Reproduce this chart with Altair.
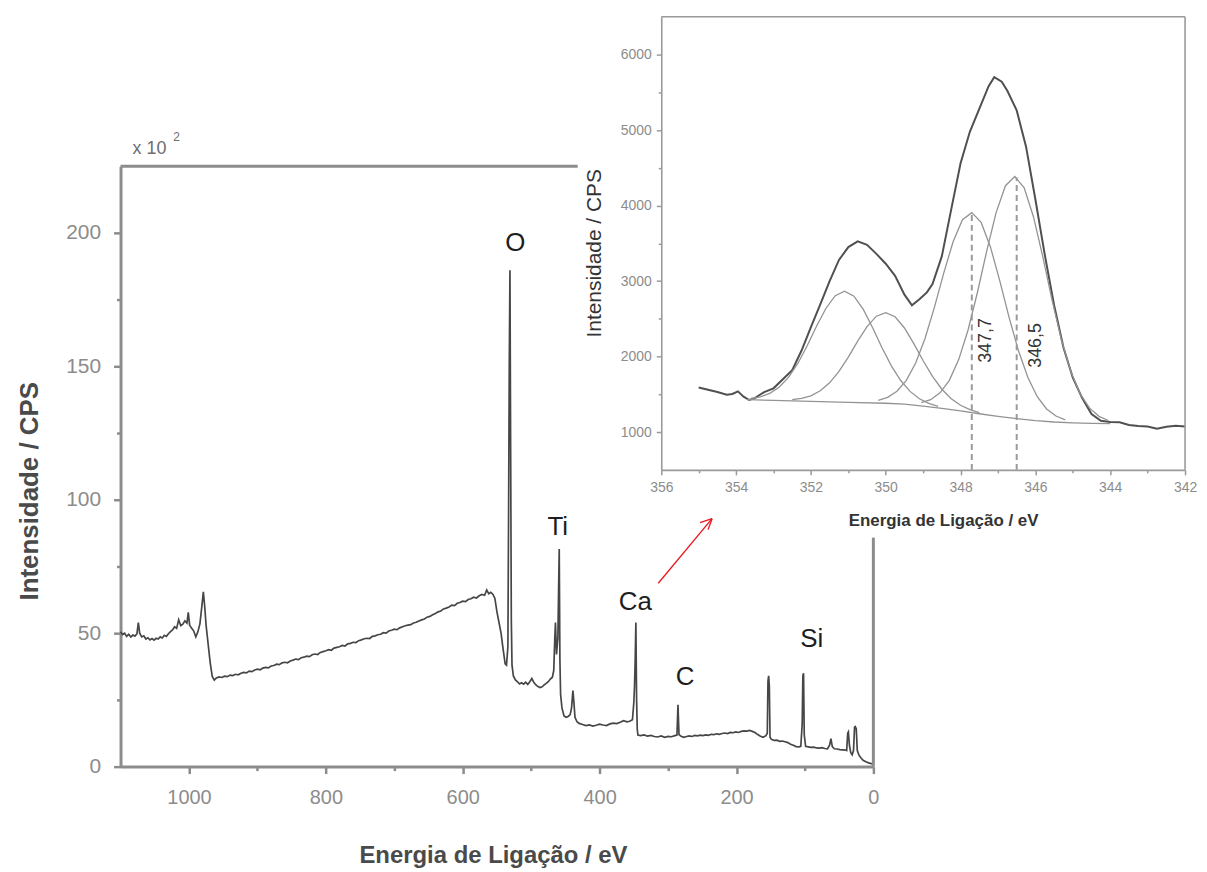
import altair as alt
import pandas as pd

# ---------------- survey spectrum (x10^2 CPS) ----------------
SURVEY_E = [1100, 1097, 1094, 1091, 1088, 1085, 1082, 1079, 1076, 1074, 1072, 1069, 1066, 1063, 1060, 1057, 1054, 1051, 1048, 1045,
            1042, 1039, 1036, 1033, 1030, 1027, 1024, 1021, 1018, 1015, 1012, 1009, 1006, 1003, 1001, 999, 996, 993, 990, 987,
            984, 981, 979, 977, 975, 972, 969, 966, 963, 960, 956, 952, 948, 944, 940, 936, 932, 928, 924, 920,
            916, 912, 908, 904, 900, 896, 892, 888, 884, 880, 876, 872, 868, 864, 860, 856, 852, 848, 844, 840,
            836, 832, 828, 824, 820, 816, 812, 808, 804, 800, 796, 792, 788, 784, 780, 776, 772, 768, 764, 760,
            756, 752, 748, 744, 740, 736, 732, 728, 724, 720, 716, 712, 708, 704, 700, 696, 692, 688, 684, 680,
            676, 672, 668, 664, 660, 656, 652, 648, 644, 640, 636, 632, 628, 624, 620, 616, 612, 608, 604, 600,
            596, 592, 588, 584, 580, 576, 572, 568, 565, 562, 559, 556, 553, 550, 547, 544, 541, 538, 536, 534,
            533, 532, 531, 530, 529, 528, 526, 523, 520, 517, 514, 511, 508, 505, 502, 499, 496, 493, 490, 487,
            484, 481, 478, 475, 472, 469, 467, 465.5, 464.5, 463, 461, 460, 459, 458, 457, 455, 452, 449, 446, 443,
            441, 439, 437.5, 436, 433, 430, 425, 420, 415, 410, 405, 400, 395, 390, 385, 380, 375, 370, 365, 360,
            356, 352, 350, 349, 348, 347, 346, 345, 344, 340, 335, 330, 325, 320, 315, 310, 305, 300, 295, 290,
            287, 285.5, 284, 281, 277, 273, 269, 265, 261, 257, 253, 249, 245, 241, 237, 233, 229, 225, 221, 217,
            213, 209, 205, 201, 197, 193, 189, 185, 181, 177, 173, 169, 165, 161, 157, 155, 154, 153, 152, 151,
            149, 145, 141, 137, 133, 129, 125, 121, 117, 113, 109, 106, 104, 103, 102, 101, 99, 95, 91, 87,
            83, 79, 75, 71, 67, 64, 62, 60, 57, 53, 49, 45, 41, 39, 37.5, 36.5, 35, 33, 31, 29,
            27.5, 26.5, 25, 23.5, 21, 18, 15, 11, 7, 3, 0]
SURVEY_I = [50.5, 49.5, 50.0, 48.8, 49.6, 48.6, 49.3, 48.9, 49.8, 54.0, 50.0, 48.6, 49.0, 47.8, 48.3, 47.5, 48.0, 47.4, 48.1, 47.8,
            48.6, 48.2, 49.2, 48.8, 49.8, 50.6, 51.2, 52.4, 51.8, 55.0, 52.8, 53.4, 54.6, 53.8, 57.8, 53.0, 51.8, 50.8, 48.6, 50.5,
            53.5, 60.5, 65.5, 60.0, 53.0, 46.0, 39.0, 33.8, 32.4, 33.2, 33.6, 33.4, 33.9, 33.7, 34.3, 34.1, 34.6, 34.4, 35.0, 35.3,
            35.1, 35.8, 35.6, 36.2, 36.5, 36.3, 36.9, 37.2, 37.0, 37.7, 37.9, 38.4, 38.2, 38.9, 39.1, 38.9, 39.6, 39.9, 40.3, 40.1,
            40.8, 41.0, 41.4, 41.2, 41.9, 42.2, 42.0, 42.8, 43.1, 43.4, 43.8, 43.6, 44.4, 44.7, 44.9, 45.4, 45.2, 46.0, 46.2, 46.6,
            46.5, 47.2, 47.5, 47.9, 48.1, 48.0, 48.8, 49.0, 49.4, 49.6, 50.2, 50.0, 50.8, 51.1, 51.5, 51.3, 52.0, 52.4, 52.8, 53.0,
            53.2, 53.8, 54.1, 54.6, 55.0, 55.3, 56.0, 56.3, 56.9, 57.4, 58.0, 58.3, 59.1, 59.4, 59.8, 60.5, 60.3, 61.2, 61.5, 62.0,
            61.8, 62.6, 62.9, 63.5, 63.2, 64.0, 64.5, 64.2, 66.2, 64.8, 65.3, 64.6, 63.0, 58.0, 54.0, 50.0, 44.0, 38.5, 38.0, 45.0,
            95.0, 150.0, 186.0, 120.0, 55.0, 38.0, 34.0, 32.5, 31.8, 31.0, 31.4, 30.9, 31.6, 30.8, 31.8, 33.0, 31.5, 30.6, 30.0, 29.6,
            29.9, 30.6, 31.2, 31.8, 32.8, 33.5, 36.0, 48.0, 54.0, 42.0, 48.0, 65.0, 81.5, 40.0, 27.0, 22.0, 19.0, 18.5, 18.8, 19.5,
            22.0, 28.5, 24.0, 18.5, 16.8, 16.2, 15.8, 15.4, 15.6, 15.2, 15.5, 15.9, 15.6, 15.4, 16.0, 16.3, 16.1, 16.6, 17.2, 16.8,
            17.0, 17.6, 24.0, 30.0, 40.0, 54.0, 26.0, 14.0, 11.8, 11.6, 11.9, 11.4, 11.7, 11.3, 11.1, 11.5, 11.0, 11.3, 11.2, 11.6,
            11.8, 23.2, 12.0, 11.4, 11.0, 11.3, 11.5, 11.3, 11.7, 11.5, 11.8, 11.6, 11.9, 11.7, 12.1, 12.0, 12.3, 12.1, 12.4, 12.6,
            12.4, 12.8, 12.7, 13.0, 12.8, 13.2, 13.4, 13.3, 13.6, 13.2, 12.8, 12.0, 11.4, 11.0, 11.6, 12.5, 32.0, 34.0, 30.0, 11.0,
            10.2, 9.8, 9.9, 9.5, 9.6, 9.3, 9.0, 8.4, 8.0, 7.5, 7.4, 7.6, 16.0, 34.0, 35.0, 12.0, 7.6, 7.4, 7.2, 7.3,
            7.0, 6.9, 7.1, 6.8, 6.7, 8.0, 10.5, 7.5, 6.7, 6.6, 6.4, 6.3, 6.2, 6.0, 12.5, 13.0, 8.0, 5.2, 4.4, 6.0,
            14.8, 15.0, 14.2, 6.0, 4.3, 3.2, 2.4, 1.8, 1.4, 1.1, 1.0]

MAIN_X_TICKS = [1000, 900, 800, 700, 600, 500, 400, 300, 200, 100, 0]
MAIN_Y_TICKS = [0, 25, 50, 75, 100, 125, 150, 175, 200]

PEAK_LABEL_TEXT = ["O", "Ti", "Ca", "C", "Si"]
PEAK_LABEL_E = [523.0, 461.2, 347.7, 275.0, 90.2]
PEAK_LABEL_I = [196.3, 89.9, 61.6, 33.6, 47.8]

# main frame (top and right borders, partly hidden by the inset)
FRAME_E = [1100, 0]
FRAME_E2 = [432, 0]
FRAME_I = [225, 0]
FRAME_I2 = [225, 85.8]

# red arrow (shaft + two head strokes), in survey coordinates
ARROW_FROM_E = [314.3, 253.2, 241.5]
ARROW_FROM_I = [68.7, 91.4, 88.8]
ARROW_TO_E = [235.7, 235.7, 235.7]
ARROW_TO_I = [92.9, 92.9, 92.9]

# ---------------- Ca 2p inset ----------------
ENV_E = [355.0, 354.75, 354.5, 354.25, 354.1, 353.95, 353.8, 353.65, 353.5, 353.25, 353.0, 352.75, 352.5, 352.25, 352.0,
         351.75, 351.5, 351.25, 351.0, 350.75, 350.5, 350.25, 350.0, 349.75, 349.5, 349.3, 349.1, 348.9, 348.75, 348.5,
         348.25, 348.0, 347.75, 347.5, 347.25, 347.1, 346.9, 346.75, 346.5, 346.25, 346.0, 345.75, 345.5, 345.25, 345.0,
         344.75, 344.5, 344.25, 344.0, 343.75, 343.5, 343.25, 343.0, 342.75, 342.5, 342.25, 342.0]
ENV_I = [1590, 1560, 1530, 1495, 1505, 1540, 1470, 1425, 1450, 1530, 1580, 1700, 1820, 2080, 2390,
         2690, 3000, 3280, 3450, 3525, 3480, 3360, 3230, 3070, 2820, 2680, 2760, 2850, 2960, 3330,
         3950, 4560, 4980, 5280, 5580, 5700, 5640, 5520, 5260, 4780, 4080, 3350, 2680, 2120, 1720,
         1450, 1240, 1150, 1135, 1130, 1095, 1080, 1075, 1045, 1070, 1085, 1075]

BG_E = [353.7, 353.0, 352.0, 351.0, 350.0, 349.5, 349.0, 348.5, 348.0, 347.5, 347.0, 346.5, 346.0, 345.5, 345.0, 344.5, 344.0]
BG_I = [1430, 1420, 1406, 1394, 1382, 1370, 1345, 1315, 1280, 1243, 1208, 1178, 1153, 1134, 1122, 1115, 1112]

C1_E = [353.6, 353.35, 353.1, 352.85, 352.6, 352.35, 352.1, 351.85, 351.6, 351.35, 351.1, 350.85, 350.6, 350.35, 350.1,
        349.85, 349.6, 349.35, 349.1, 348.85, 348.6]
C1_I = [1445, 1467, 1513, 1594, 1725, 1909, 2143, 2401, 2637, 2806, 2866, 2800, 2625, 2383, 2118,
        1878, 1683, 1539, 1442, 1380, 1340]
C2_E = [352.5, 352.25, 352.0, 351.75, 351.5, 351.25, 351.0, 350.75, 350.5, 350.25, 350.0, 349.75, 349.5, 349.25, 349.0,
        348.75, 348.5, 348.25, 348.0, 347.75, 347.5]
C2_I = [1429, 1446, 1481, 1547, 1653, 1804, 1994, 2205, 2397, 2535, 2582, 2528, 2379, 2172, 1945,
        1737, 1568, 1442, 1355, 1298, 1259]
C3_E = [350.2, 349.95, 349.7, 349.45, 349.2, 348.95, 348.7, 348.45, 348.2, 347.95, 347.7, 347.45, 347.2, 346.95, 346.7,
        346.45, 346.2, 345.95, 345.7, 345.45, 345.2]
C3_I = [1419, 1461, 1542, 1686, 1915, 2240, 2651, 3106, 3521, 3813, 3906, 3777, 3449, 3000, 2513,
        2073, 1722, 1469, 1307, 1213, 1161]
C4_E = [349.05, 348.8, 348.55, 348.3, 348.05, 347.8, 347.55, 347.3, 347.05, 346.8, 346.55, 346.3, 346.05, 345.8, 345.55,
        345.3, 345.05, 344.8, 344.55, 344.3, 344.05]
C4_I = [1390, 1429, 1520, 1685, 1960, 2352, 2849, 3401, 3906, 4263, 4384, 4235, 3849, 3317, 2738,
        2214, 1798, 1502, 1317, 1209, 1154]

PEAK_POS_E = [347.7, 346.5]
PEAK_POS_TOP = [3906, 4370]
PEAK_POS_TEXT = ["347,7", "346,5"]
PEAK_POS_LABEL_E = [347.32, 345.99]
PEAK_POS_LABEL_I = [2214, 2148]

INSET_X_TICKS = [356, 355, 354, 353, 352, 351, 350, 349, 348, 347, 346, 345, 344, 343, 342]
INSET_Y_TICKS = [1000, 1500, 2000, 2500, 3000, 3500, 4000, 4500, 5000, 5500, 6000]

INSET_FRAME_E = [356, 342]
INSET_FRAME_E2 = [342, 342]
INSET_FRAME_I = [6500, 500]
INSET_FRAME_I2 = [6500, 6500]

# ---------------- scales (pixel ranges inside one shared canvas) ----------------
W, H = 1069, 753
main_x = alt.Scale(domain=[0, 1100], range=[756, 0], nice=False, zero=False)
main_y = alt.Scale(domain=[0, 225], range=[753, 150], nice=False, zero=False)
ins_x = alt.Scale(domain=[342, 356], range=[1069, 543], nice=False, zero=False)
ins_y = alt.Scale(domain=[500, 6500], range=[455, 0], nice=False, zero=False)

NARROW = "Liberation Sans Narrow, Liberation Sans, Arial, sans-serif"
SANS = "Liberation Sans, Arial, sans-serif"
AX_GRAY = "#8c8c8c"

main_x_axis = alt.Axis(
    orient="bottom", values=MAIN_X_TICKS, format="d",
    labelExpr="datum.value % 200 === 0 ? datum.label : ''",
    tickSize={"condition": {"test": "datum.value % 200 === 0", "value": 7}, "value": 4},
    domainColor=AX_GRAY, domainWidth=3, tickColor=AX_GRAY, tickWidth=2.5,
    labelColor=AX_GRAY, labelFont=NARROW, labelFontSize=20, labelPadding=14,
    labelBaseline="top", labelFlush=False, grid=False,
    title="Energia de Ligação / eV", titleFont=SANS, titleFontSize=24, titleFontWeight="bold",
    titleColor="#4a4a4a", titleX=374, titleY=89, titleBaseline="middle", titleAlign="center",
)
main_y_axis = alt.Axis(
    orient="left", values=MAIN_Y_TICKS, format="d",
    labelExpr="datum.value % 50 === 0 ? datum.label : ''",
    tickSize={"condition": {"test": "datum.value % 50 === 0", "value": 7}, "value": 4},
    domainColor=AX_GRAY, domainWidth=3, tickColor=AX_GRAY, tickWidth=2.5,
    labelColor=AX_GRAY, labelFont=NARROW, labelFontSize=21, labelPadding=13,
    labelFlush=False, grid=False,
    title="Intensidade / CPS", titleFont=SANS, titleFontSize=26, titleFontWeight="bold",
    titleColor="#4a4a4a", titleX=-91, titleY=476, titleAngle=270, titleBaseline="middle", titleAlign="center",
)
ins_x_axis = alt.Axis(
    orient="bottom", offset=-298, values=INSET_X_TICKS, format="d",
    labelExpr="datum.value % 2 === 0 ? datum.label : ''",
    tickSize={"condition": {"test": "datum.value % 2 === 0", "value": 5}, "value": 3},
    domainColor="#9a9a9a", domainWidth=1.6, tickColor="#9a9a9a", tickWidth=1.5,
    labelColor=AX_GRAY, labelFont=NARROW, labelFontSize=14, labelPadding=6,
    labelBaseline="top", labelFlush=False, grid=False,
    title="Energia de Ligação / eV", titleFont=SANS, titleFontSize=17, titleFontWeight="bold",
    titleColor="#333333", titleX=826, titleY=51, titleBaseline="middle", titleAlign="center",
)
ins_y_axis = alt.Axis(
    orient="left", offset=-543, values=INSET_Y_TICKS, format="d",
    labelExpr="datum.value % 1000 === 0 ? datum.label : ''",
    tickSize={"condition": {"test": "datum.value % 1000 === 0", "value": 5}, "value": 3},
    domainColor="#9a9a9a", domainWidth=1.6, tickColor="#9a9a9a", tickWidth=1.5,
    labelColor=AX_GRAY, labelFont=NARROW, labelFontSize=14, labelPadding=5,
    labelFlush=False, grid=False,
    title="Intensidade / CPS", titleFont=SANS, titleFontSize=21, titleFontWeight="normal",
    titleColor="#333333", titleX=-67, titleY=237, titleAngle=270, titleBaseline="middle", titleAlign="center",
)

# ---------------- survey layers ----------------
survey_df = pd.DataFrame({"E": SURVEY_E, "I": SURVEY_I})
survey = alt.Chart(survey_df).mark_line(color="#464646", strokeWidth=1.7, interpolate="linear").encode(
    x=alt.X("E:Q", scale=main_x, axis=main_x_axis),
    y=alt.Y("I:Q", scale=main_y, axis=main_y_axis),
)

frame_df = pd.DataFrame({"E": FRAME_E, "E2": FRAME_E2, "I": FRAME_I, "I2": FRAME_I2})
frame = alt.Chart(frame_df).mark_rule(color=AX_GRAY, strokeWidth=3).encode(
    x=alt.X("E:Q", scale=main_x, axis=None), x2="E2:Q",
    y=alt.Y("I:Q", scale=main_y, axis=None), y2="I2:Q",
)

peak_df = pd.DataFrame({"E": PEAK_LABEL_E, "I": PEAK_LABEL_I, "t": PEAK_LABEL_TEXT})
peaks = alt.Chart(peak_df).mark_text(font=SANS, fontSize=26, color="#1e1e1e", align="center", baseline="middle").encode(
    x=alt.X("E:Q", scale=main_x, axis=None),
    y=alt.Y("I:Q", scale=main_y, axis=None),
    text="t:N",
)

mult_df = pd.DataFrame({"E": [1082.5], "I": [231.3], "t": ["x 10"]})
mult = alt.Chart(mult_df).mark_text(font=NARROW, fontSize=18, color="#6e6e6e", align="left", baseline="middle").encode(
    x=alt.X("E:Q", scale=main_x, axis=None), y=alt.Y("I:Q", scale=main_y, axis=None), text="t:N")
exp_df = pd.DataFrame({"E": [1023.0], "I": [236.0], "t": ["2"]})
expo = alt.Chart(exp_df).mark_text(font=NARROW, fontSize=12, color="#6e6e6e", align="left", baseline="middle").encode(
    x=alt.X("E:Q", scale=main_x, axis=None), y=alt.Y("I:Q", scale=main_y, axis=None), text="t:N")

arrow_df = pd.DataFrame({"E": ARROW_FROM_E, "I": ARROW_FROM_I, "E2": ARROW_TO_E, "I2": ARROW_TO_I})
arrow = alt.Chart(arrow_df).mark_rule(color="#e8161b", strokeWidth=1.3).encode(
    x=alt.X("E:Q", scale=main_x, axis=None), x2="E2:Q",
    y=alt.Y("I:Q", scale=main_y, axis=None), y2="I2:Q",
)

# ---------------- inset layers ----------------
env_df = pd.DataFrame({"E": ENV_E, "I": ENV_I})
envelope = alt.Chart(env_df).mark_line(color="#505050", strokeWidth=2).encode(
    x=alt.X("E:Q", scale=ins_x, axis=ins_x_axis),
    y=alt.Y("I:Q", scale=ins_y, axis=ins_y_axis),
)

comp_rows = []
for name, es, vs in [("bg", BG_E, BG_I), ("c1", C1_E, C1_I), ("c2", C2_E, C2_I), ("c3", C3_E, C3_I), ("c4", C4_E, C4_I)]:
    for e, v in zip(es, vs):
        comp_rows.append({"E": e, "I": v, "comp": name})
comp_df = pd.DataFrame(comp_rows)
components = alt.Chart(comp_df).mark_line(color="#939393", strokeWidth=1.3).encode(
    x=alt.X("E:Q", scale=ins_x, axis=None),
    y=alt.Y("I:Q", scale=ins_y, axis=None),
    detail="comp:N",
)

dash_df = pd.DataFrame({"E": PEAK_POS_E, "I": [500, 500], "I2": PEAK_POS_TOP})
dashes = alt.Chart(dash_df).mark_rule(color="#9a9a9a", strokeWidth=2, strokeDash=[6, 4]).encode(
    x=alt.X("E:Q", scale=ins_x, axis=None),
    y=alt.Y("I:Q", scale=ins_y, axis=None), y2="I2:Q",
)

pos_df = pd.DataFrame({"E": PEAK_POS_LABEL_E, "I": PEAK_POS_LABEL_I, "t": PEAK_POS_TEXT})
pos_labels = alt.Chart(pos_df).mark_text(font=SANS, fontSize=18, color="#333333", angle=270,
                                         align="center", baseline="middle").encode(
    x=alt.X("E:Q", scale=ins_x, axis=None),
    y=alt.Y("I:Q", scale=ins_y, axis=None),
    text="t:N",
)

iframe_df = pd.DataFrame({"E": INSET_FRAME_E, "E2": INSET_FRAME_E2, "I": INSET_FRAME_I, "I2": INSET_FRAME_I2})
iframe = alt.Chart(iframe_df).mark_rule(color="#9a9a9a", strokeWidth=1.6).encode(
    x=alt.X("E:Q", scale=ins_x, axis=None), x2="E2:Q",
    y=alt.Y("I:Q", scale=ins_y, axis=None), y2="I2:Q",
)

chart = alt.layer(
    survey, frame, peaks, mult, expo, arrow,
    envelope, components, dashes, pos_labels, iframe,
).resolve_scale(
    x="independent", y="independent"
).properties(
    width=W, height=H,
    autosize=alt.AutoSizeParams(type="none"),
    padding={"left": 113, "top": 7, "right": 14, "bottom": 100},
    background="white",
).configure_view(stroke=None)

chart.save("out.html", embed_options={"renderer": "svg", "actions": False})
